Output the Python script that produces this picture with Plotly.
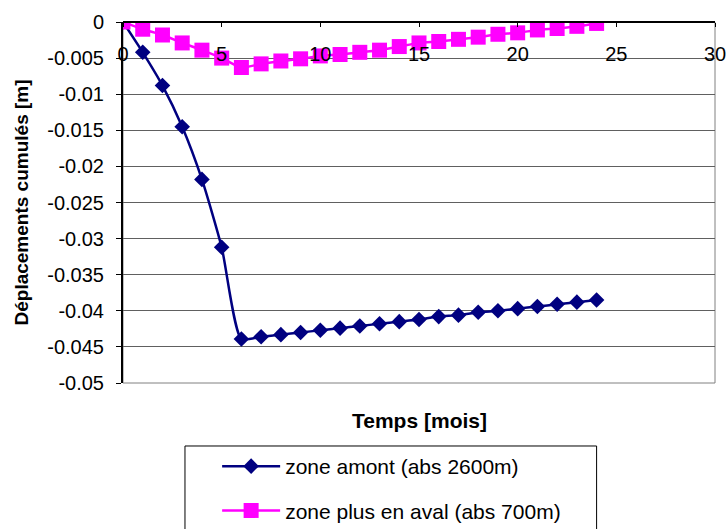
import plotly.graph_objects as go

# Temps en mois
mois = list(range(0, 25))

# Déplacements cumulés [m], zone amont (abs 2600m)
amont = [0.0, -0.0042, -0.0088, -0.0145, -0.0218, -0.0312, -0.0439, -0.0436,
         -0.0433, -0.0430, -0.0427, -0.0424, -0.0421, -0.0418, -0.0415,
         -0.0412, -0.0408, -0.0406, -0.0402, -0.0400, -0.0397, -0.0394,
         -0.0391, -0.0388, -0.0385]

# Déplacements cumulés [m], zone plus en aval (abs 700m)
aval = [0.0, -0.0010, -0.0018, -0.0029, -0.0039, -0.0050, -0.0063, -0.0058,
        -0.0054, -0.0051, -0.0047, -0.0045, -0.0042, -0.0039, -0.0034,
        -0.0029, -0.0027, -0.0024, -0.0021, -0.0017, -0.0015, -0.0011,
        -0.0009, -0.0006, -0.0002]

x_ticks = [0, 5, 10, 15, 20, 25, 30]
y_ticks = [0, -0.005, -0.01, -0.015, -0.02, -0.025, -0.03, -0.035, -0.04, -0.045, -0.05]
y_tick_text = ["0", "-0.005", "-0.01", "-0.015", "-0.02", "-0.025", "-0.03",
               "-0.035", "-0.04", "-0.045", "-0.05"]

FONT = "Arial, Liberation Sans, sans-serif"

fig = go.Figure()
fig.add_trace(go.Scatter(
    x=mois, y=amont, name="zone amont (abs 2600m)", mode="lines+markers",
    line=dict(color="#000080", width=2.5, shape="spline", smoothing=0.6),
    marker=dict(symbol="diamond", size=12, color="#000080"),
    legendgroup="a",
))
fig.add_trace(go.Scatter(
    x=mois, y=aval, name="zone plus en aval (abs 700m)", mode="lines+markers",
    line=dict(color="#FF00FF", width=2.5, shape="spline", smoothing=0.6),
    marker=dict(symbol="square", size=15, color="#FF00FF"),
    legendgroup="b",
))

# Cadre de la zone de tracé
fig.add_shape(type="rect", xref="paper", yref="paper", x0=0, y0=0, x1=1, y1=1,
              line=dict(color="#808080", width=1), layer="below")

# Cadre de la légende
fig.add_shape(type="rect", xref="paper", yref="paper",
              x0=0.1047, y0=-0.49, x1=0.80, y1=-0.1745,
              line=dict(color="black", width=1), layer="below")

fig.add_annotation(text="<b>Temps [mois]</b>", xref="paper", yref="paper",
                   x=0.5, y=-0.105, xanchor="center", yanchor="middle",
                   showarrow=False, font=dict(family=FONT, size=21, color="black"))

fig.update_layout(
    width=728, height=529,
    margin=dict(l=123, r=13, t=22, b=146, autoexpand=False),
    paper_bgcolor="white", plot_bgcolor="white",
    font=dict(family=FONT, size=20, color="black"),
    showlegend=True,
    legend=dict(
        x=0.159, y=-0.1745, xanchor="left", yanchor="top",
        borderwidth=0, bgcolor="rgba(0,0,0,0)",
        font=dict(family=FONT, size=21, color="black"),
        tracegroupgap=14, itemwidth=58,
    ),
    xaxis=dict(
        range=[0, 30], tickvals=x_ticks, ticktext=[str(v) for v in x_ticks],
        side="bottom", anchor="free", position=1,
        ticks="outside", ticklen=4, tickcolor="black", ticklabelstandoff=10,
        showgrid=False, zeroline=False,
        showline=True, linecolor="black", linewidth=1.5,
        tickfont=dict(family=FONT, size=20, color="black"),
    ),
    yaxis=dict(
        range=[-0.05, 0], tickvals=y_ticks, ticktext=y_tick_text,
        ticks="outside", ticklen=5, tickcolor="black", ticklabelstandoff=8,
        showgrid=True, gridcolor="#606060", gridwidth=1, zeroline=False,
        showline=True, linecolor="black", linewidth=2,
        tickfont=dict(family=FONT, size=20, color="black"),
        title=dict(text="<b>Déplacements cumulés [m]</b>", standoff=14,
                   font=dict(family=FONT, size=19, color="black")),
    ),
)

fig.write_html("out.html")
